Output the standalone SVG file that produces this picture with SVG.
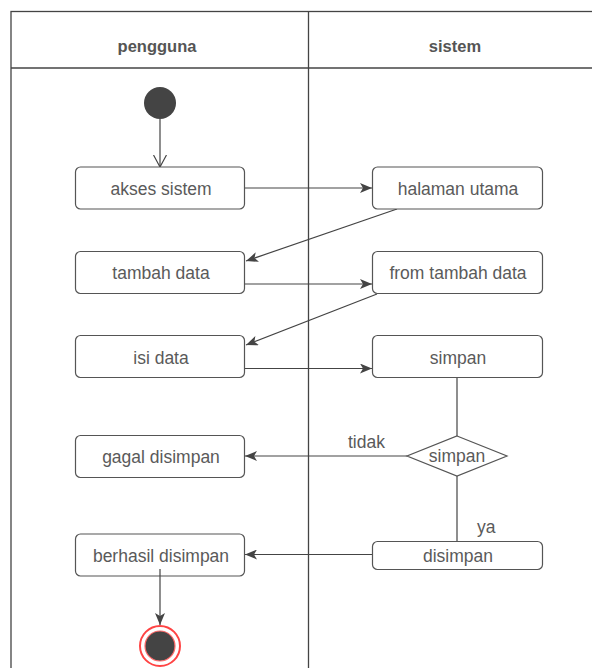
<svg xmlns="http://www.w3.org/2000/svg" width="592" height="668" viewBox="0 0 592 668">
  <defs>
    <marker id="arrow" viewBox="0 0 12 10" refX="12" refY="5" markerWidth="12" markerHeight="10" markerUnits="userSpaceOnUse" orient="auto">
      <path d="M0,0 L12,5 L0,10 L3,5 Z" fill="#444"/>
    </marker>
    <marker id="open" viewBox="0 0 12 14" refX="12" refY="7" markerWidth="12" markerHeight="14" markerUnits="userSpaceOnUse" orient="auto">
      <path d="M0,0.5 L12,7 L0,13.5" fill="none" stroke="#444" stroke-width="1.2"/>
    </marker>
    <style>
      .lane { fill: none; stroke: #444; stroke-width: 1.3; }
      .head { font-family: "Liberation Sans", Arial, sans-serif; font-size: 16.5px; font-weight: bold; fill: #555; text-anchor: middle; }
      .box { fill: #fff; stroke: #555; stroke-width: 1.2; }
      .lbl { font-family: "Liberation Sans", Arial, sans-serif; font-size: 17.5px; fill: #5a5a5a; text-anchor: middle; }
      .guard { font-family: "Liberation Sans", Arial, sans-serif; font-size: 17.5px; fill: #5a5a5a; }
      .edge { fill: none; stroke: #444; stroke-width: 1.2; }
    </style>
  </defs>
  <rect width="592" height="668" fill="#fff"/>

  <!-- swimlanes -->
  <g id="lanes">
    <rect class="lane" x="11" y="11.5" width="600" height="680"/>
    <line class="lane" x1="11" y1="68" x2="600" y2="68"/>
    <line class="lane" x1="308.5" y1="11.5" x2="308.5" y2="680"/>
    <text class="head" x="157" y="52">pengguna</text>
    <text class="head" x="455" y="52">sistem</text>
  </g>

  <!-- connectors -->
  <g id="connectors">
    <line class="edge" x1="160" y1="119" x2="160" y2="167" marker-end="url(#open)"/>
    <line class="edge" x1="245" y1="188" x2="372" y2="188" marker-end="url(#arrow)"/>
    <line class="edge" x1="397" y1="209" x2="246" y2="261" marker-end="url(#arrow)"/>
    <line class="edge" x1="245" y1="284" x2="372" y2="284" marker-end="url(#arrow)"/>
    <line class="edge" x1="377" y1="294" x2="246" y2="345" marker-end="url(#arrow)"/>
    <line class="edge" x1="245" y1="368.5" x2="372" y2="368.5" marker-end="url(#arrow)"/>
    <line class="edge" x1="457" y1="378" x2="457" y2="436"/>
    <line class="edge" x1="407" y1="456" x2="245" y2="456" marker-end="url(#arrow)"/>
    <line class="edge" x1="457" y1="476" x2="457" y2="541"/>
    <line class="edge" x1="372" y1="554.5" x2="245" y2="554.5" marker-end="url(#arrow)"/>
    <line class="edge" x1="160" y1="569" x2="160" y2="625" marker-end="url(#arrow)"/>
    <text class="guard" x="348" y="448">tidak</text>
    <text class="guard" x="477" y="533">ya</text>
  </g>

  <!-- nodes -->
  <g id="start">
    <circle cx="160" cy="103" r="16" fill="#444"/>
  </g>
  <g id="akses-sistem">
    <rect class="box" x="75.5" y="167" width="169" height="42" rx="5"/>
    <text class="lbl" x="161" y="195">akses sistem</text>
  </g>
  <g id="halaman-utama">
    <rect class="box" x="372.5" y="167" width="170" height="42" rx="5"/>
    <text class="lbl" x="458" y="195">halaman utama</text>
  </g>
  <g id="tambah-data">
    <rect class="box" x="75.5" y="251.5" width="169" height="42" rx="5"/>
    <text class="lbl" x="161" y="279">tambah data</text>
  </g>
  <g id="form-tambah-data">
    <rect class="box" x="372.5" y="251.5" width="170" height="42" rx="5"/>
    <text class="lbl" x="458" y="279">from tambah data</text>
  </g>
  <g id="isi-data">
    <rect class="box" x="75.5" y="335.5" width="169" height="42" rx="5"/>
    <text class="lbl" x="161" y="363.5">isi data</text>
  </g>
  <g id="simpan">
    <rect class="box" x="372.5" y="335.5" width="170" height="42" rx="5"/>
    <text class="lbl" x="458" y="363.5">simpan</text>
  </g>
  <g id="decision">
    <polygon class="box" points="457,436 507,456 457,476 407,456"/>
    <text class="lbl" x="457" y="462">simpan</text>
  </g>
  <g id="gagal-disimpan">
    <rect class="box" x="75.5" y="435.5" width="169" height="42" rx="5"/>
    <text class="lbl" x="161" y="462.5">gagal disimpan</text>
  </g>
  <g id="disimpan">
    <rect class="box" x="372.5" y="541.5" width="170" height="28" rx="5"/>
    <text class="lbl" x="458" y="561.5">disimpan</text>
  </g>
  <g id="berhasil-disimpan">
    <rect class="box" x="75.5" y="534" width="169" height="42" rx="5"/>
    <text class="lbl" x="161" y="561.5">berhasil disimpan</text>
  </g>
  <line class="edge" x1="160" y1="569" x2="160" y2="576"/>
  <g id="end">
    <circle cx="160" cy="646" r="20" fill="#fff" stroke="#f44" stroke-width="2"/>
    <circle cx="160" cy="646" r="15" fill="#444" stroke="#f66" stroke-width="1.2"/>
  </g>
</svg>
